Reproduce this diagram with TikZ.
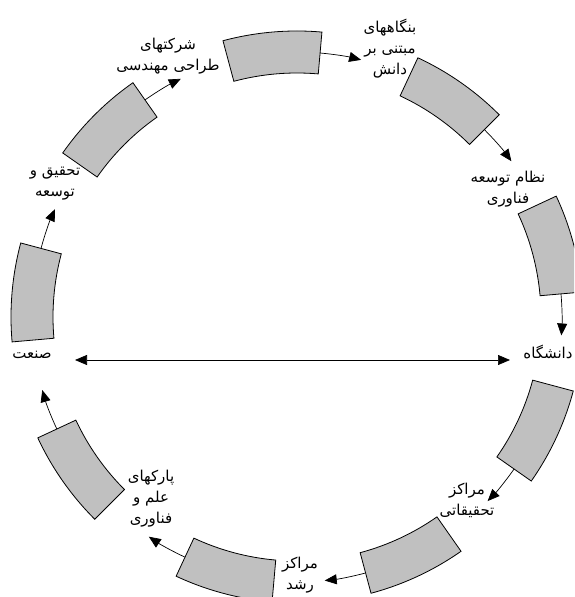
\documentclass[tikz,border=0pt]{standalone}
\usepackage{fontspec}
\newfontfamily\arabicfont[Script=Arabic]{DejaVu Sans}
\TeXXeTstate=1
\usetikzlibrary{arrows.meta,calc}
\definecolor{boxgray}{RGB}{192,192,192}
% one right-to-left line of Persian text
\newcommand{\fa}[1]{\beginR #1\endR}
\begin{document}
\begin{tikzpicture}[x=1pt,y=1pt,
  sector/.style={draw=black, line width=0.8pt, fill=boxgray},
  flow/.style={line width=0.7pt, -{Triangle[length=12pt,width=10pt]}},
  twoway/.style={line width=0.7pt, {Triangle[length=12pt,width=10pt]}-{Triangle[length=12pt,width=10pt]}},
  lbl/.style={font=\arabicfont\fontsize{15}{21}\selectfont, align=center, inner sep=0pt}]
\clip (0,0) rectangle (574,597);
\coordinate (O) at (297,280);

% ring of nine curved blocks with clockwise arrows between them
\begin{scope}[shift={(O)}]
\foreach \k in {0,...,8} {
  \pgfmathsetmacro\a{175-40*\k}
  \draw[sector] ({\a+10}:244) arc[start angle=\a+10, end angle=\a-10, radius=244]
     -- ({\a-10}:286) arc[start angle=\a-10, end angle=\a+10, radius=286] -- cycle;
  \coordinate (s\k) at ({\a-10}:265);
  \draw[flow] (s\k) arc[start angle=\a-10, end angle=\a-19, radius=265];
}
\end{scope}

% labels at the arrow heads
\node[lbl] (rd)   at (55,413)  {\fa{تحقیق و}\\\fa{توسعه}};
\node[lbl] (eng)  at (168,541) {\fa{شرکتهای}\\\fa{طراحی مهندسی}};
\node[lbl] (kb)   at (390,548) {\fa{بنگاههای}\\\fa{مبتنی بر}\\\fa{دانش}};
\node[lbl] (tech) at (508,408) {\fa{نظام توسعه}\\\fa{فناوری}};
\node[lbl] (uni)  at (548,245) {\fa{دانشگاه}};
\node[lbl] (res)  at (467,97)  {\fa{مراکز}\\\fa{تحقیقاتی}};
\node[lbl] (inc)  at (300,22)  {\fa{مراکز}\\\fa{رشد}};
\node[lbl] (park) at (151,98)  {\fa{پارکهای}\\\fa{علم و}\\\fa{فناوری}};
\node[lbl] (ind)  at (32,242)  {\fa{صنعت}};

% industry <-> university
\draw[twoway] ($(ind.center)+(43,-5)$) -- ($(uni.center)+(-38,-8)$);
\end{tikzpicture}
\end{document}
